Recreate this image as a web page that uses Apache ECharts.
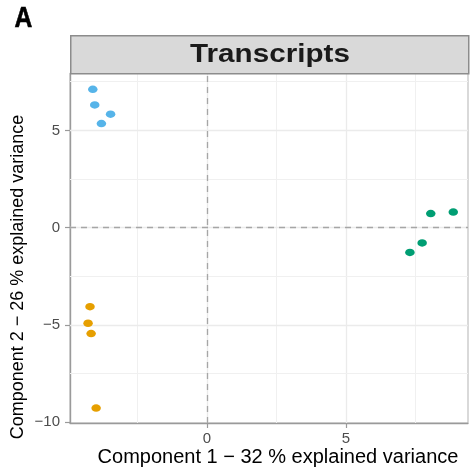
<!DOCTYPE html>
<html>
<head>
<meta charset="utf-8">
<script src="https://cdn.jsdelivr.net/npm/echarts@6/dist/echarts.min.js"></script>
<style>
html,body{margin:0;padding:0;background:#fff;}
#chart{width:470px;height:473px;}
</style>
</head>
<body>
<div id="chart"></div>
<script>
// ---- data ----
const groupNames = ['Group 1', 'Group 2', 'Group 3'];
const blueX = [-4.11, -4.04, -3.47, -3.80];
const blueY = [7.11, 6.31, 5.83, 5.35];
const orangeX = [-4.21, -4.28, -4.17, -3.99];
const orangeY = [-4.07, -4.92, -5.45, -9.28];
const greenX = [8.05, 8.86, 7.74, 7.30];
const greenY = [0.72, 0.80, -0.79, -1.28];
const xTickValues = [0, 5];
const yTickValues = [-10, -5, 0, 5];
const xMajorGrid = [0, 5];
const xMinorGrid = [-2.5, 2.5, 7.5];
const yMajorGrid = [-5, 0, 5];
const yMinorGrid = [-7.5, -2.5, 2.5, 7.5];
const refLines = [0];
const panelTitle = 'Transcripts';
const panelTag = 'A';
const xTitle = 'Component 1 \u2212 32 % explained variance';
const yTitle = 'Component 2 \u2212 26 % explained variance';
const colors = ['#56B4E9', '#E69F00', '#009E73'];

function zip(xs, ys) { return xs.map((x, i) => [x, ys[i]]); }

const FONT = '"Liberation Sans", Arial, Helvetica, sans-serif';
const GL = {left: 70, top: 73, right: 2, bottom: 50};
const W = 470;
const panelW = W - GL.left - GL.right;

const gridLineData = []
  .concat(xMajorGrid.map(v => ({xAxis: v, lineStyle: {color: '#ebebeb', width: 1.3, type: 'solid'}})))
  .concat(xMinorGrid.map(v => ({xAxis: v, lineStyle: {color: '#f0f0f0', width: 1, type: 'solid'}})))
  .concat(yMajorGrid.map(v => ({yAxis: v, lineStyle: {color: '#ebebeb', width: 1.3, type: 'solid'}})))
  .concat(yMinorGrid.map(v => ({yAxis: v, lineStyle: {color: '#f0f0f0', width: 1, type: 'solid'}})));
const dashData = []
  .concat(refLines.map(v => ({xAxis: v})))
  .concat(refLines.map(v => ({yAxis: v})));

const ellipse = 'path://M0,5a5,5 0 1,0 10,0a5,5 0 1,0 -10,0z';
const labelFmt = v => (v < 0 ? '\u2212' + Math.abs(v) : String(v));

const chart = echarts.init(document.getElementById('chart'), null, {renderer: 'canvas'});
chart.setOption({
  backgroundColor: '#ffffff',
  animation: false,
  grid: {left: GL.left, top: GL.top, right: GL.right, bottom: GL.bottom, show: true,
         borderColor: '#b3b3b3', borderWidth: 1, backgroundColor: '#ffffff'},
  xAxis: {
    type: 'value', min: -4.93, max: 9.39,
    splitLine: {show: false},
    axisLine: {show: true, onZero: false, lineStyle: {color: '#9a9a9a', width: 1.4}},
    axisTick: {show: true, customValues: xTickValues, length: 5, lineStyle: {color: '#9a9a9a', width: 1.2}},
    axisLabel: {show: true, customValues: xTickValues, margin: 8, color: '#4d4d4d', fontSize: 15, fontFamily: FONT,
      formatter: labelFmt}
  },
  yAxis: {
    type: 'value', min: -10.05, max: 7.95,
    splitLine: {show: false},
    axisLine: {show: true, onZero: false, lineStyle: {color: '#9a9a9a', width: 1.4}},
    axisTick: {show: true, customValues: yTickValues, length: 5, lineStyle: {color: '#9a9a9a', width: 1.2}},
    axisLabel: {show: true, customValues: yTickValues, margin: 10, color: '#4d4d4d', fontSize: 15, fontFamily: FONT,
      formatter: labelFmt}
  },
  series: [
    {
      type: 'scatter', name: 'grid', data: [], silent: true, z: 1,
      markLine: {silent: true, symbol: ['none', 'none'], label: {show: false}, z: 1, animation: false,
        data: gridLineData}
    },
    {
      type: 'scatter', name: 'reference', data: [], silent: true, z: 1,
      markLine: {silent: true, symbol: ['none', 'none'], label: {show: false}, z: 2, animation: false,
        lineStyle: {color: '#a6a6a6', width: 1.3, type: [6, 5]},
        data: dashData}
    },
    {type: 'scatter', name: groupNames[0], data: zip(blueX, blueY), symbol: ellipse, symbolSize: [9.5, 7.5],
     itemStyle: {color: colors[0], opacity: 1}, z: 5},
    {type: 'scatter', name: groupNames[1], data: zip(orangeX, orangeY), symbol: ellipse, symbolSize: [9.5, 7.5],
     itemStyle: {color: colors[1], opacity: 1}, z: 5},
    {type: 'scatter', name: groupNames[2], data: zip(greenX, greenY), symbol: ellipse, symbolSize: [9.5, 7.5],
     itemStyle: {color: colors[2], opacity: 1}, z: 5}
  ],
  graphic: [
    {type: 'rect', left: GL.left, top: 35, z: 10,
     shape: {width: panelW, height: 38},
     style: {fill: '#d9d9d9', stroke: '#8c8c8c', lineWidth: 1.5}},
    {type: 'text', x: GL.left + panelW / 2 + 1, y: 55, scaleX: 1.14, z: 11,
     style: {text: panelTitle, font: 'bold 26px ' + FONT, fill: '#1a1a1a', textAlign: 'center', textVerticalAlign: 'middle'}},
    {type: 'text', x: 23.5, y: 19, scaleX: 0.85, z: 11,
     style: {text: panelTag, font: 'bold 29px ' + FONT, fill: '#000000', stroke: '#000000', lineWidth: 0.6,
             textAlign: 'center', textVerticalAlign: 'middle'}},
    {type: 'text', x: 278, y: 457, z: 11,
     style: {text: xTitle, font: '20px ' + FONT, fill: '#000000', textAlign: 'center', textVerticalAlign: 'middle'}},
    {type: 'text', x: 18, y: 277, rotation: Math.PI / 2, z: 11,
     style: {text: yTitle, font: '18px ' + FONT, fill: '#000000', textAlign: 'center', textVerticalAlign: 'middle'}}
  ]
});
</script>
</body>
</html>
